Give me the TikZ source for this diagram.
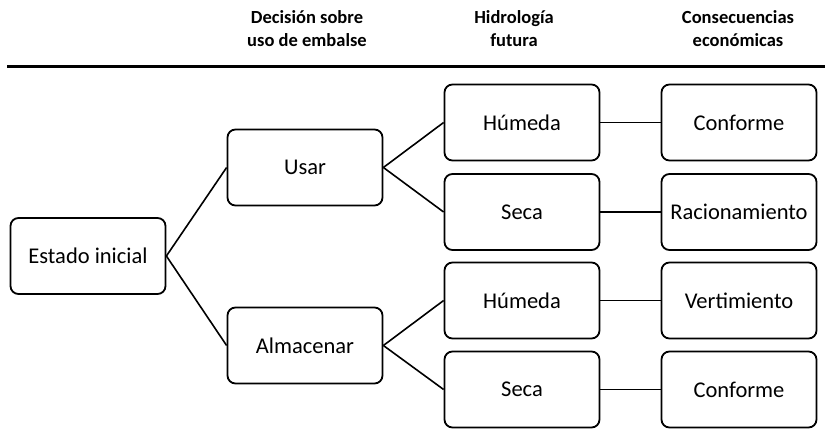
\documentclass[tikz,border=0pt]{standalone}
\usepackage{fontspec}
\setmainfont{Carlito}
\begin{document}
\begin{tikzpicture}[x=1pt,y=-1pt,
  box/.style={draw, line width=1.8pt, rounded corners=8pt, minimum width=155pt, minimum height=76pt, font=\fontsize{22.5}{26}\selectfont, inner sep=0pt},
  head/.style={font=\bfseries\fontsize{18.5}{23}\selectfont, align=center},
  link/.style={line width=1.6pt}]
\useasboundingbox (0,0) rectangle (825,430);
% column headers
\node[head] (h1) at (307,28.5) {Decisión sobre\\uso de embalse};
\node[head] (h2) at (514,28.5) {Hidrología\\futura};
\node[head] (h3) at (738,28.5) {Consecuencias\\económicas};
\coordinate (rl) at (7,67);
\coordinate (rr) at (825,67);
\draw[line width=3pt] (rl) -- (rr);
% decision tree
\node[box] (ini) at (88,256) {Estado inicial};
\node[box] (usar) at (305,167.5) {Usar};
\node[box] (alm) at (305,345.5) {Almacenar};
\node[box] (h1a) at (522,122.5) {Húmeda};
\node[box] (s1a) at (522,212) {Seca};
\node[box] (h2a) at (522,300.5) {Húmeda};
\node[box] (s2a) at (522,389.5) {Seca};
\node[box] (c1) at (739,122.5) {Conforme};
\node[box] (c2) at (739,212) {Racionamiento};
\node[box] (c3) at (739,300.5) {Vertimiento};
\node[box] (c4) at (739,389.5) {Conforme};
\draw[link] (ini.east) -- (usar.west);
\draw[link] (ini.east) -- (alm.west);
\draw[link] (usar.east) -- (h1a.west);
\draw[link] (usar.east) -- (s1a.west);
\draw[link] (alm.east) -- (h2a.west);
\draw[link] (alm.east) -- (s2a.west);
\draw[link] (h1a) -- (c1);
\draw[link] (s1a) -- (c2);
\draw[link] (h2a) -- (c3);
\draw[link] (s2a) -- (c4);
\end{tikzpicture}
\end{document}
